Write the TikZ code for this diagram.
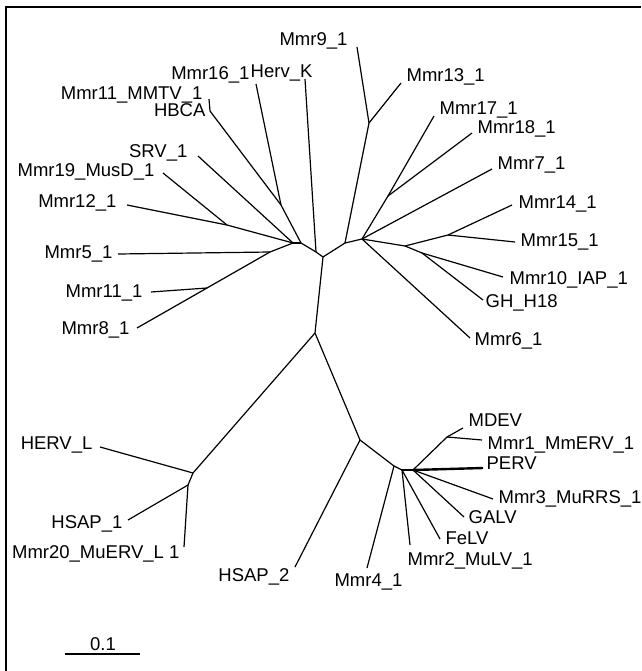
\documentclass[tikz,border=0pt]{standalone}
\usepackage{fontspec}
\setmainfont{Liberation Sans}
\usepackage{tikz}

\tikzset{
  leaf/.style={inner sep=0pt,text height=13pt,text depth=0pt},
  lleaf/.style={leaf,anchor=east},
  rleaf/.style={leaf,anchor=west},
  fat/.style={line width=2.4pt}
}

\begin{document}
\begin{tikzpicture}[x=1pt,y=-1pt,line width=1.2pt,font=\fontsize{18.5}{20}\selectfont]

	\useasboundingbox (0,0) rectangle (641,671);
	\draw[line width=1.5pt] (6,671) -- (6,7) -- (641,7);

	% inner nodes
	\coordinate (root) at (323,257);
	\coordinate (b)    at (316,252);
	\coordinate (a2)   at (301,243);
	\coordinate (a1)   at (293,243);
	\coordinate (j)    at (281,205);
	\coordinate (i)    at (210,111);
	\coordinate (h)    at (227,225);
	\coordinate (g)    at (270,252);
	\coordinate (g2)   at (207,288);
	\coordinate (d)    at (345,243);
	\coordinate (k)    at (369,123);
	\coordinate (e)    at (362,239);
	\coordinate (l)    at (388,196);
	\coordinate (n)    at (405,246);
	\coordinate (m)    at (448,235);
	\coordinate (o)    at (422,253);
	\coordinate (f)    at (315,333);
	\coordinate (s)    at (193,473);
	\coordinate (t)    at (188,485);
	\coordinate (p)    at (360,440);
	\coordinate (q)    at (394,466);
	\coordinate (r)    at (402,470);
	\coordinate (r2)   at (413,470);
	\coordinate (u)    at (447,437);

	% tips
	\coordinate (mmr9)  at (357,47);
	\coordinate (mmr13) at (401,83);
	\coordinate (mmr17) at (434,116);
	\coordinate (mmr18) at (472,133);
	\coordinate (mmr7)  at (492,169);
	\coordinate (mmr14) at (512,205);
	\coordinate (mmr15) at (515,242);
	\coordinate (mmr10) at (503,277);
	\coordinate (gh)    at (483,300);
	\coordinate (mmr6)  at (470,338);
	\coordinate (mmr16) at (256,84);
	\coordinate (hervk) at (305,79);
	\coordinate (mmtv)  at (209,99);
	\coordinate (srv)   at (198,156);
	\coordinate (mmr19) at (163,173);
	\coordinate (mmr12) at (127,205);
	\coordinate (mmr5)  at (118,254);
	\coordinate (mmr11) at (151,292);
	\coordinate (mmr8)  at (137,328);
	\coordinate (hervl) at (100,447);
	\coordinate (hsap1) at (128,520);
	\coordinate (mmr20) at (184,547);
	\coordinate (hsap2) at (295,567);
	\coordinate (mmr4)  at (367,568);
	\coordinate (mmr2)  at (410,545);
	\coordinate (felv)  at (440,539);
	\coordinate (galv)  at (464,517);
	\coordinate (mmr3)  at (493,499);
	\coordinate (perv)  at (483,468);
	\coordinate (mdev)  at (463,428);
	\coordinate (mmr1)  at (482,440);

	% labels
	\node[lleaf] (Lmmr9)  at (348,39)  {Mmr9\_1};
	\node[lleaf] (Lmmr16) at (250,73)  {Mmr16\_1};
	\node[lleaf] (Lhervk) at (313,71)  {Herv\_K};
	\node[lleaf] (Lmmtv)  at (203,93)  {Mmr11\_MMTV\_1};
	\node[lleaf] (Lhbca)  at (206,110) {HBCA};
	\node[lleaf] (Lsrv)   at (188,151) {SRV\_1};
	\node[lleaf] (Lmmr19) at (155,170) {Mmr19\_MusD\_1};
	\node[lleaf] (Lmmr12) at (117,201) {Mmr12\_1};
	\node[lleaf] (Lmmr5)  at (113,252) {Mmr5\_1};
	\node[lleaf] (Lmmr11) at (143,291) {Mmr11\_1};
	\node[lleaf] (Lmmr8)  at (130,328) {Mmr8\_1};
	\node[lleaf] (Lhervl) at (93,443)  {HERV\_L};
	\node[lleaf] (Lhsap1) at (123,522) {HSAP\_1};
	\node[lleaf] (Lmmr20) at (180,552) {Mmr20\_MuERV\_L 1};
	\node[lleaf] (Lhsap2) at (290,575) {HSAP\_2};
	\node[lleaf] (Lmmr4)  at (403,580) {Mmr4\_1};

	\node[rleaf] (Lmmr13) at (406,75)  {Mmr13\_1};
	\node[rleaf] (Lmmr17) at (439,108) {Mmr17\_1};
	\node[rleaf] (Lmmr18) at (477,127) {Mmr18\_1};
	\node[rleaf] (Lmmr7)  at (497,163) {Mmr7\_1};
	\node[rleaf] (Lmmr14) at (518,202) {Mmr14\_1};
	\node[rleaf] (Lmmr15) at (520,240) {Mmr15\_1};
	\node[rleaf] (Lmmr10) at (509,278) {Mmr10\_IAP\_1};
	\node[rleaf] (Lgh)    at (485,301) {GH\_H18};
	\node[rleaf] (Lmmr6)  at (474,339) {Mmr6\_1};
	\node[rleaf] (Lmdev)  at (468,420) {MDEV};
	\node[rleaf] (Lmmr1)  at (487,443) {Mmr1\_MmERV\_1};
	\node[rleaf] (Lperv)  at (486,463) {PERV};
	\node[rleaf] (Lmmr3)  at (498,497) {Mmr3\_MuRRS\_1};
	\node[rleaf] (Lgalv)  at (468,517) {GALV};
	\node[rleaf] (Lfelv)  at (445,538) {FeLV};
	\node[rleaf] (Lmmr2)  at (407,559) {Mmr2\_MuLV\_1};

	% scale bar
	\coordinate (bar0) at (65,654);
	\coordinate (bar1) at (140,654);
	\node[leaf] (Lbar) at (103,644) {0.1};

	\path (root) edge (b) edge (d) edge (f)
	      (b)    edge (a2) edge (hervk)
	      (a2)   edge[fat] (a1) edge (j)
	      (j)    edge (i) edge (mmr16)
	      (i)    edge (mmtv)
	      (a1)   edge (srv) edge (h) edge (g)
	      (h)    edge (mmr12) edge (mmr19)
	      (g)    edge (mmr5) edge (g2)
	      (g2)   edge (mmr11) edge (mmr8)
	      (d)    edge (k) edge (e)
	      (k)    edge (mmr9) edge (mmr13)
	      (e)    edge (l) edge (mmr7) edge (n) edge (mmr6)
	      (l)    edge (mmr17) edge (mmr18)
	      (n)    edge (m) edge (o)
	      (m)    edge (mmr14) edge (mmr15)
	      (o)    edge (mmr10) edge (gh)
	      (f)    edge (s) edge (p)
	      (s)    edge (hervl) edge (t)
	      (t)    edge (hsap1) edge (mmr20)
	      (p)    edge (hsap2) edge (q)
	      (q)    edge (mmr4) edge (r)
	      (r)    edge[fat] (r2) edge (mmr2) edge (felv)
	      (r2)   edge (galv) edge (mmr3) edge[fat] (perv) edge (u)
	      (u)    edge (mdev) edge (mmr1)
	      (bar0) edge[line width=2pt] (bar1);

\end{tikzpicture}
\end{document}
